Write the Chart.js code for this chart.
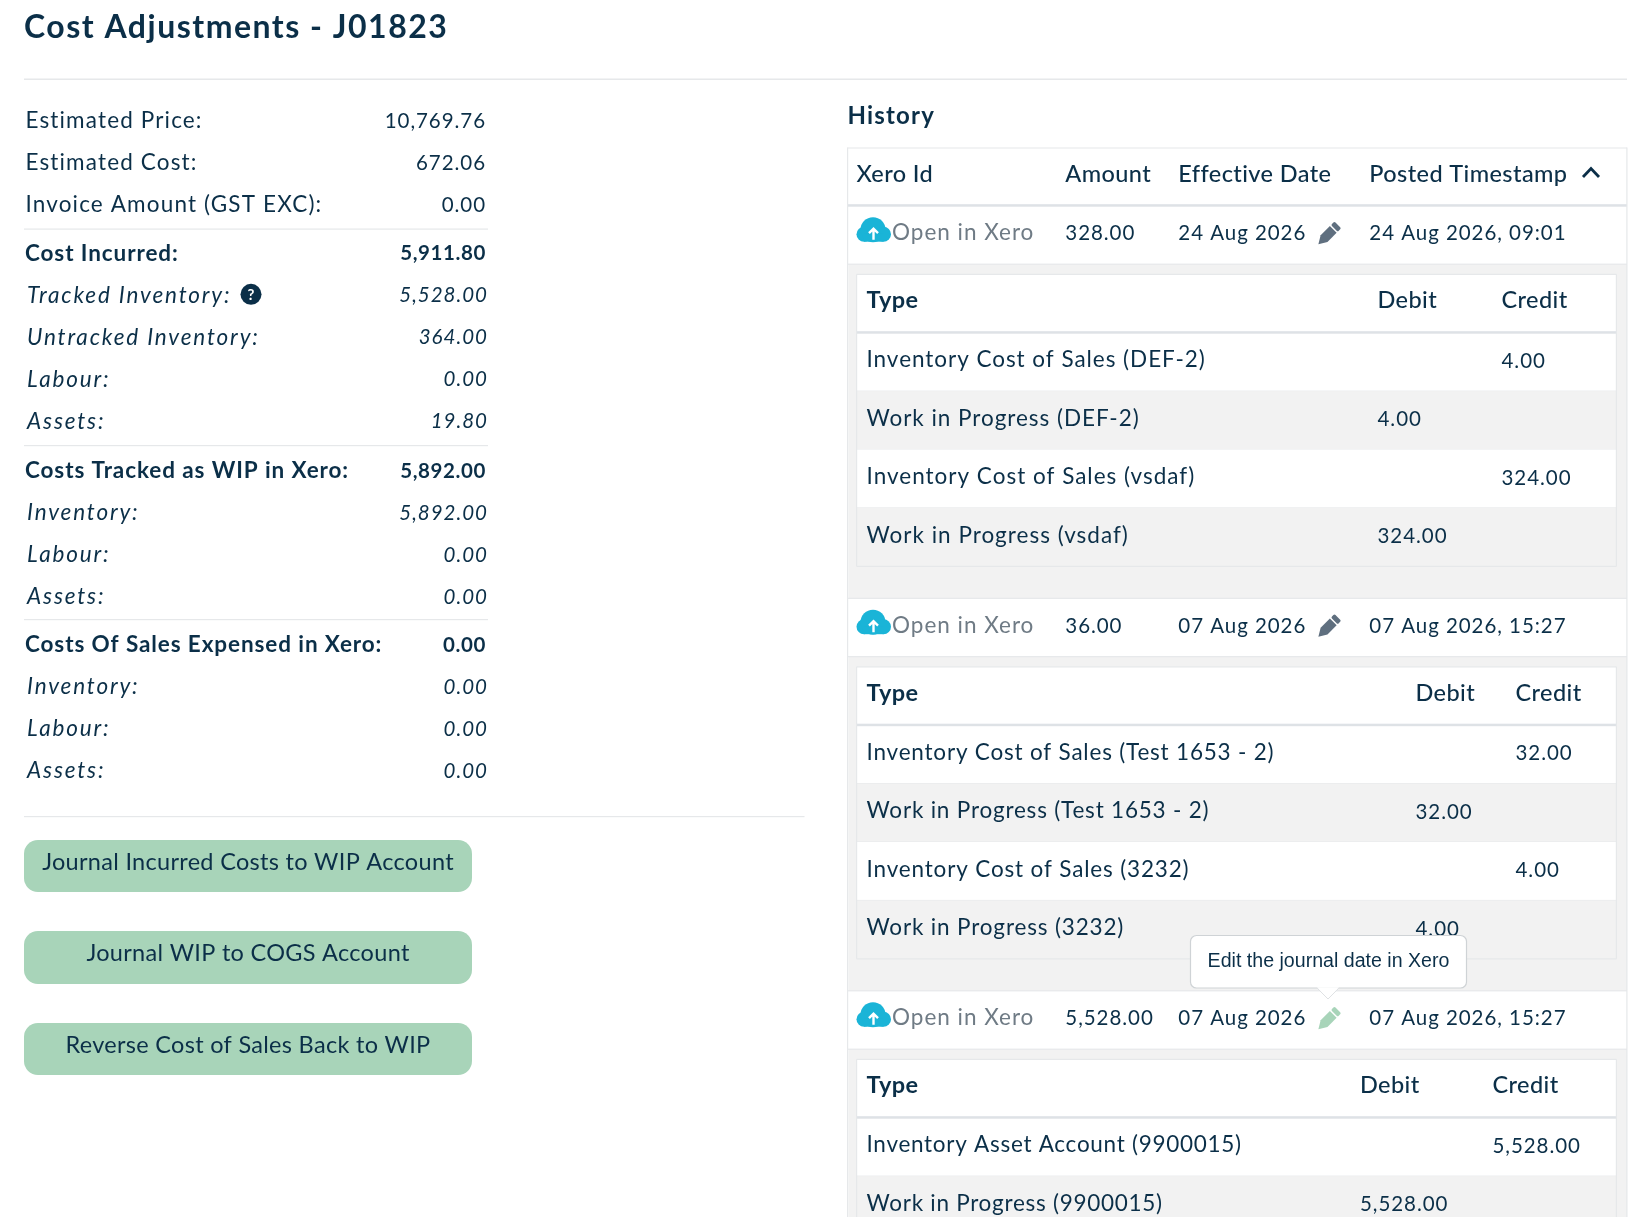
<!DOCTYPE html>
<html>
<head>
<meta charset="utf-8">
<title>Cost Adjustments - J01823</title>
<script src="https://cdn.jsdelivr.net/npm/chart.js@4"></script>
<style>
    html, body { margin: 0; padding: 0; background: #fff; }
    canvas { display: block; }
</style>
</head>
<body>
<canvas id="costChart" width="1636" height="1217"></canvas>
<script>
// Text and amounts
const pageTitle = 'Cost Adjustments - J01823';
const historyTitle = 'History';
const tooltipText = 'Edit the journal date in Xero';
const xeroLinkText = 'Open in Xero';

const estimateLabels = ['Estimated Price:', 'Estimated Cost:', 'Invoice Amount (GST EXC):'];
const estimateValues = ['10,769.76', '672.06', '0.00'];

const incurredLabels = ['Cost Incurred:', 'Tracked Inventory:', 'Untracked Inventory:', 'Labour:', 'Assets:'];
const incurredValues = ['5,911.80', '5,528.00', '364.00', '0.00', '19.80'];

const wipLabels = ['Costs Tracked as WIP in Xero:', 'Inventory:', 'Labour:', 'Assets:'];
const wipValues = ['5,892.00', '5,892.00', '0.00', '0.00'];

const expensedLabels = ['Costs Of Sales Expensed in Xero:', 'Inventory:', 'Labour:', 'Assets:'];
const expensedValues = ['0.00', '0.00', '0.00', '0.00'];

const buttonLabels = ['Journal Incurred Costs to WIP Account', 'Journal WIP to COGS Account', 'Reverse Cost of Sales Back to WIP'];

const historyHeaders = ['Xero Id', 'Amount', 'Effective Date', 'Posted Timestamp'];
const journalAmounts = ['328.00', '36.00', '5,528.00'];
const journalDates = ['24 Aug 2026', '07 Aug 2026', '07 Aug 2026'];
const journalPosted = ['24 Aug 2026, 09:01', '07 Aug 2026, 15:27', '07 Aug 2026, 15:27'];

const lineHeaders = ['Type', 'Debit', 'Credit'];
const lineTypes = [
    ['Inventory Cost of Sales (DEF-2)', 'Work in Progress (DEF-2)', 'Inventory Cost of Sales (vsdaf)', 'Work in Progress (vsdaf)'],
    ['Inventory Cost of Sales (Test 1653 - 2)', 'Work in Progress (Test 1653 - 2)', 'Inventory Cost of Sales (3232)', 'Work in Progress (3232)'],
    ['Inventory Asset Account (9900015)', 'Work in Progress (9900015)']
];
const lineDebits = [
    ['', '4.00', '', '324.00'],
    ['', '32.00', '', '4.00'],
    ['', '5,528.00']
];
const lineCredits = [
    ['4.00', '', '324.00', ''],
    ['32.00', '', '4.00', ''],
    ['5,528.00', '']
];

// Layout, all in page pixels
const ink = '#0b2f48';
const rule = '#e6e8ea';
const stripe = '#f2f2f2';
const green = '#a8d4b9';
const FONT = 'Lato, sans-serif';

const labelX = 25.5, valueX = 486, italicLabelX = 27, italicX = 488;
const estimateY = 121, incurredY = 253.3, wipY = 470.5, expensedY = 645, summaryStep = 42;
const summaryRules = [228.5, 445, 619];
const buttonBox = [[840, 892], [931, 984], [1023, 1075]];
const buttonLeft = 24, buttonRight = 472;

const tableLeft = 847.5, tableRight = 1627, nestedLeft = 856.5, nestedRight = 1616.5;
const headTop = 147.5, headBottom = 205.7, blockStep = 392.5, rowHeight = 58.4;
const nestedOffset = 68.6, nestedHead = 58.4, lineStep = 58.4;
const historyX = [856.5, 1065.3, 1178.3, 1369.3];
const linkX = 892, pencilX = 1329, chevronX = 1591, cloudX = 873.5;
const typeX = 866.5;
const debitX = [1377.5, 1415.5, 1360];
const creditX = [1501.5, 1515.5, 1492.5];

const fonts = {
    title: ['700 32px ' + FONT, '1.5px', ink],
    section: ['700 24px ' + FONT, '1.2px', ink],
    head: ['500 23.5px ' + FONT, '0.4px', ink],
    headBold: ['700 23.5px ' + FONT, '0.4px', ink],
    body: ['400 22.5px ' + FONT, '1px', ink],
    summary: ['400 22.5px ' + FONT, '1.15px', ink],
    num: ['400 20.5px ' + FONT, '0.95px', ink],
    bold: ['700 22.5px ' + FONT, '0.9px', ink],
    numBold: ['700 20.5px ' + FONT, '0.6px', ink],
    italic: ['italic 400 22.5px ' + FONT, '1.85px', ink],
    numItalic: ['italic 400 20.5px ' + FONT, '1px', ink],
    link: ['400 22.5px ' + FONT, '1px', '#6f7b85'],
    button: ['400 23.5px ' + FONT, '0.3px', ink]
};
const tipFont = '400 19.6px "Liberation Sans", Arial, sans-serif';

// One hidden scatter dataset per font: each point is one piece of text
const cells = {};
Object.keys(fonts).forEach(k => { cells[k] = []; });
const put = (style, x, y, text, align = 'left') => { if (text) cells[style].push({ x, y, text, align }); };

put('title', 24, 28, pageTitle);
put('section', tableLeft, 116, historyTitle);

const summaryGroup = (labels, values, top, leadBold) => {
    labels.forEach((label, i) => {
        const y = top + i * summaryStep;
        if (!leadBold) {
            put('summary', labelX, y, label);
            put('num', valueX, y + 0.5, values[i], 'right');
        } else if (i === 0) {
            put('bold', labelX - 0.5, y, label);
            put('numBold', valueX, y + 0.5, values[i], 'right');
        } else {
            put('italic', italicLabelX, y, label);
            put('numItalic', italicX, y + 0.5, values[i], 'right');
        }
    });
};
summaryGroup(estimateLabels, estimateValues, estimateY, false);
summaryGroup(incurredLabels, incurredValues, incurredY, true);
summaryGroup(wipLabels, wipValues, wipY, true);
summaryGroup(expensedLabels, expensedValues, expensedY, true);

buttonLabels.forEach((label, i) => put('button', (buttonLeft + buttonRight) / 2, buttonBox[i][0] + 22.5, label, 'center'));

historyHeaders.forEach((h, i) => put('head', historyX[i], 174, h));

const blockTop = i => headBottom + i * blockStep;
journalAmounts.forEach((amount, i) => {
    const y = blockTop(i) + 27.5;
    put('link', linkX, y, xeroLinkText);
    put('num', historyX[1], y + 0.5, amount);
    put('num', historyX[2], y + 0.5, journalDates[i]);
    put('num', historyX[3], y + 0.5, journalPosted[i]);

    const nestedTop = blockTop(i) + nestedOffset;
    put('headBold', typeX, nestedTop + 26.5, lineHeaders[0]);
    put('head', debitX[i], nestedTop + 26.5, lineHeaders[1]);
    put('head', creditX[i], nestedTop + 26.5, lineHeaders[2]);
    lineTypes[i].forEach((type, r) => {
        const y = nestedTop + nestedHead + r * lineStep + 27.5;
        put('body', typeX, y, type);
        put('num', debitX[i], y + 1, lineDebits[i][r]);
        put('num', creditX[i], y + 1, lineCredits[i][r]);
    });
});

const tipBox = { left: 1190.5, top: 935.5, width: 276, height: 52.5, arrowX: 1328 };

// Backgrounds, rules and buttons under the text
const paintPage = {
    id: 'paintPage',
    beforeDatasetsDraw(chart) {
        const { ctx, scales: { x, y } } = chart;
        const rect = (l, t, r, b, fill) => {
            ctx.fillStyle = fill;
            ctx.fillRect(x.getPixelForValue(l), y.getPixelForValue(t), x.getPixelForValue(r) - x.getPixelForValue(l), y.getPixelForValue(b) - y.getPixelForValue(t));
        };
        ctx.save();
        rect(24, 78.5, tableRight, 80, rule);
        rect(24, 816, 804.5, 817.2, rule);
        summaryRules.forEach(r => rect(24, r, 488, r + 1.2, rule));

        buttonBox.forEach(([t, b]) => {
            ctx.fillStyle = green;
            ctx.beginPath();
            ctx.roundRect(x.getPixelForValue(buttonLeft), y.getPixelForValue(t), buttonRight - buttonLeft, b - t, 14);
            ctx.fill();
        });

        // outer table
        rect(tableLeft, headTop, tableRight, headTop + 1, rule);
        rect(tableLeft, headBottom - 1.5, tableRight, headBottom + 1, '#dee2e6');

        journalAmounts.forEach((a, i) => {
            const top = blockTop(i);
            const bottom = i < 2 ? blockTop(i + 1) : 1217;
            rect(tableLeft + 1, top + rowHeight, tableRight, bottom, stripe);
            rect(tableLeft, top + rowHeight - 0.5, tableRight, top + rowHeight + 0.7, rule);
            if (i > 0) rect(tableLeft, top - 0.5, tableRight, top + 0.7, rule);

            const nestedTop = top + nestedOffset;
            const rows = lineTypes[i].length;
            const nestedBottom = nestedTop + nestedHead + rows * lineStep;
            rect(nestedLeft, nestedTop, nestedRight, nestedTop + nestedHead, '#fff');
            for (let r = 0; r < rows; r++) {
                const rt = nestedTop + nestedHead + r * lineStep;
                rect(nestedLeft, rt, nestedRight, rt + lineStep, r % 2 === 0 ? '#fff' : stripe);
                rect(nestedLeft, rt + lineStep - 0.5, nestedRight, rt + lineStep + 0.7, rule);
            }
            rect(nestedLeft, nestedTop - 0.5, nestedRight, nestedTop + 0.7, rule);
            rect(nestedLeft, nestedTop + nestedHead - 1.5, nestedRight, nestedTop + nestedHead + 1, '#dee2e6');
            rect(nestedLeft - 0.5, nestedTop, nestedLeft + 0.7, nestedBottom, rule);
            rect(nestedRight - 0.7, nestedTop, nestedRight + 0.5, nestedBottom, rule);
        });
        rect(tableLeft - 0.5, headTop, tableLeft + 0.7, 1217, rule);
        rect(tableRight - 0.7, headTop, tableRight + 0.5, 1217, rule);
        ctx.restore();
    }
};

// Draws the text of every hidden point, then the icons and the tooltip
const paintText = {
    id: 'paintText',
    afterDatasetsDraw(chart) {
        const { ctx, scales: { x, y } } = chart;
        ctx.save();
        ctx.textBaseline = 'middle';
        chart.data.datasets.forEach((ds, d) => {
            const [font, spacing, color] = fonts[ds.label];
            chart.getDatasetMeta(d).data.forEach((pt, i) => {
                const text = ds.data[i].text;
                // Lato digits run wider than the original font, so tighten lines that hold many of them
                const digits = ds.label === 'body' ? (text.match(/\d/g) || []).length : 0;
                ctx.font = font;
                ctx.letterSpacing = (parseFloat(spacing) - digits * 0.04) + 'px';
                ctx.fillStyle = color;
                ctx.textAlign = ds.data[i].align;
                ctx.fillText(text, pt.x, pt.y);
            });
        });
        ctx.letterSpacing = '0px';

        // help badge next to Tracked Inventory
        const helpX = x.getPixelForValue(251), helpY = y.getPixelForValue(294.3);
        ctx.fillStyle = ink;
        ctx.beginPath();
        ctx.arc(helpX, helpY, 10.5, 0, Math.PI * 2);
        ctx.fill();
        ctx.fillStyle = '#fff';
        ctx.font = '700 15px ' + FONT;
        ctx.textAlign = 'center';
        ctx.fillText('?', helpX, helpY + 0.5);

        // sort chevron
        ctx.strokeStyle = ink;
        ctx.lineWidth = 2.8;
        ctx.beginPath();
        ctx.moveTo(x.getPixelForValue(chevronX - 8), y.getPixelForValue(177));
        ctx.lineTo(x.getPixelForValue(chevronX), y.getPixelForValue(168.5));
        ctx.lineTo(x.getPixelForValue(chevronX + 8), y.getPixelForValue(177));
        ctx.stroke();

        journalAmounts.forEach((a, i) => {
            const cy = y.getPixelForValue(blockTop(i) + 28);
            // cloud with an up arrow
            const cx = x.getPixelForValue(cloudX);
            ctx.fillStyle = '#1ab4d7';
            ctx.beginPath();
            ctx.arc(cx - 9.5, cy + 0.5, 7.5, 0, Math.PI * 2);
            ctx.fill();
            ctx.beginPath();
            ctx.arc(cx - 0.5, cy - 4, 12.5, 0, Math.PI * 2);
            ctx.fill();
            ctx.beginPath();
            ctx.arc(cx + 10, cy + 0.5, 7.5, 0, Math.PI * 2);
            ctx.fill();
            ctx.fillRect(cx - 9.5, cy, 19.5, 8);
            ctx.strokeStyle = '#fff';
            ctx.lineWidth = 2.4;
            ctx.beginPath();
            ctx.moveTo(cx, cy + 6);
            ctx.lineTo(cx, cy - 5);
            ctx.moveTo(cx - 4.5, cy - 0.5);
            ctx.lineTo(cx, cy - 5);
            ctx.lineTo(cx + 4.5, cy - 0.5);
            ctx.stroke();

            // pencil, the last one is hovered
            const px = x.getPixelForValue(pencilX);
            ctx.save();
            ctx.translate(px, cy);
            ctx.rotate(Math.PI / 4);
            ctx.fillStyle = i === 2 ? green : '#5f6f7f';
            ctx.beginPath();
            ctx.moveTo(0, 15);
            ctx.lineTo(-4.8, 7);
            ctx.lineTo(-4.8, -6);
            ctx.lineTo(4.8, -6);
            ctx.lineTo(4.8, 7);
            ctx.closePath();
            ctx.fill();
            ctx.beginPath();
            ctx.roundRect(-4.8, -12.5, 9.6, 5, 1.5);
            ctx.fill();
            ctx.restore();
        });

        // tooltip
        const tl = x.getPixelForValue(tipBox.left), tt = y.getPixelForValue(tipBox.top), tw = tipBox.width, th = tipBox.height;
        ctx.fillStyle = '#fff';
        ctx.strokeStyle = '#cfd3d6';
        ctx.lineWidth = 1.2;
        ctx.beginPath();
        ctx.roundRect(tl, tt, tw, th, 6);
        ctx.fill();
        ctx.stroke();
        const ax = x.getPixelForValue(tipBox.arrowX), ay = tt + th;
        ctx.fillStyle = '#fff';
        ctx.beginPath();
        ctx.moveTo(ax - 11, ay - 0.7);
        ctx.lineTo(ax, ay + 11);
        ctx.lineTo(ax + 11, ay - 0.7);
        ctx.closePath();
        ctx.fill();
        ctx.strokeStyle = '#dfe2e4';
        ctx.lineWidth = 1;
        ctx.beginPath();
        ctx.moveTo(ax - 11, ay);
        ctx.lineTo(ax, ay + 11);
        ctx.lineTo(ax + 11, ay);
        ctx.stroke();
        ctx.font = tipFont;
        ctx.fillStyle = ink;
        ctx.textAlign = 'center';
        ctx.fillText(tooltipText, tl + tw / 2, tt + th / 2 - 0.5);
        ctx.restore();
    }
};

new Chart(document.getElementById('costChart'), {
    type: 'scatter',
    data: {
        datasets: Object.keys(cells).map(k => ({
            label: k,
            data: cells[k],
            pointRadius: 0,
            pointHoverRadius: 0
        }))
    },
    options: {
        responsive: false,
        animation: false,
        devicePixelRatio: 1,
        layout: { padding: 0 },
        events: [],
        plugins: { legend: { display: false }, tooltip: { enabled: false } },
        scales: {
            x: { type: 'linear', min: 0, max: 1636, display: false },
            y: { type: 'linear', min: 0, max: 1217, reverse: true, display: false }
        }
    },
    plugins: [paintPage, paintText]
});
</script>
</body>
</html>
